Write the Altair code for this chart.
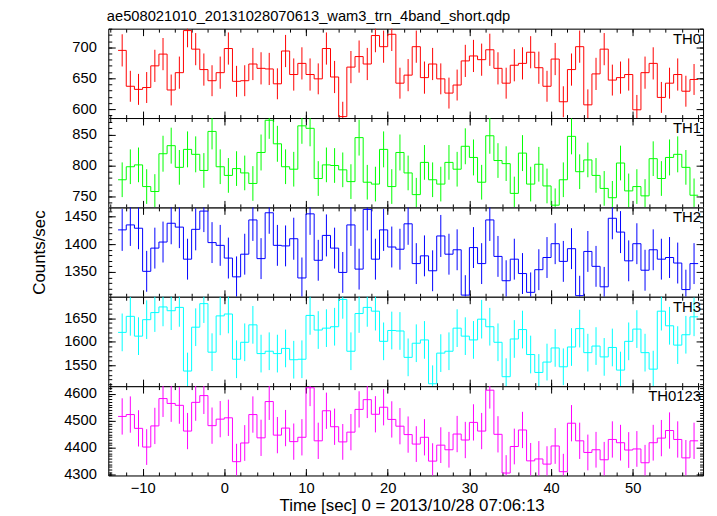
import altair as alt
import pandas as pd

FONT = "Liberation Sans"
FS = 14.8
TFS = 17

TITLE = "ae508021010_20131028070613_wam3_trn_4band_short.qdp"
X_TITLE = "Time [sec] 0 = 2013/10/28 07:06:13"
Y_TITLE = "Counts/sec"
BANDS = ["TH0", "TH1", "TH2", "TH3", "TH0123"]
COLORS = ["#ff0000", "#00ff00", "#0000ff", "#00ffff", "#ff00ff"]

T_START = -13
N_BINS = 71

TH0 = [695, 637, 632, 635, 670, 689, 631, 659, 727, 697, 664, 646, 659, 698, 645, 646, 673, 666,
       665, 641, 694, 656, 674, 656, 649, 698, 652, 588, 668, 685, 673, 719, 701, 721, 642, 655,
       701, 651, 673, 649, 626, 639, 678, 686, 680, 696, 666, 642, 671, 674, 692, 667, 637, 681,
       612, 664, 701, 607, 657, 697, 647, 651, 656, 599, 659, 674, 619, 642, 656, 629, 648]
TH0_ERR = [26, 25, 25, 25, 26, 26, 25, 26, 27, 26, 26, 25, 26, 26, 25, 25, 26, 26,
           26, 25, 26, 26, 26, 26, 25, 26, 26, 24, 26, 26, 26, 27, 26, 27, 25, 26,
           26, 26, 26, 25, 25, 25, 26, 26, 26, 26, 26, 25, 26, 26, 26, 26, 25, 26,
           25, 26, 26, 25, 26, 26, 25, 26, 26, 24, 26, 26, 25, 25, 26, 25, 25]

TH1 = [777, 798, 801, 766, 758, 819, 832, 797, 826, 818, 792, 855, 798, 784, 795, 788, 771, 821,
       873, 835, 798, 794, 864, 860, 779, 801, 800, 793, 774, 845, 773, 770, 826, 766, 821, 788,
       753, 805, 777, 770, 805, 794, 831, 813, 773, 848, 808, 803, 755, 820, 770, 802, 767, 736,
       777, 847, 790, 809, 784, 763, 748, 804, 759, 766, 751, 811, 779, 813, 818, 797, 752]
TH1_ERR = [28, 28, 28, 28, 28, 29, 29, 28, 29, 29, 28, 29, 28, 28, 28, 28, 28, 29,
           30, 29, 28, 28, 29, 29, 28, 28, 28, 28, 28, 29, 28, 28, 29, 28, 29, 28,
           27, 28, 28, 28, 28, 28, 29, 29, 28, 29, 28, 28, 27, 29, 28, 28, 28, 27,
           28, 29, 28, 28, 28, 28, 27, 28, 28, 28, 27, 28, 28, 29, 29, 28, 27]

TH2 = [1426, 1435, 1429, 1351, 1393, 1404, 1438, 1431, 1373, 1427, 1460, 1403, 1398, 1375, 1341,
       1382, 1444, 1374, 1457, 1398, 1397, 1410, 1339, 1455, 1371, 1416, 1393, 1349, 1435, 1355,
       1463, 1373, 1426, 1395, 1391, 1437, 1365, 1379, 1352, 1415, 1382, 1390, 1308, 1394, 1365,
       1444, 1378, 1334, 1373, 1347, 1313, 1354, 1376, 1401, 1369, 1392, 1307, 1387, 1360, 1323,
       1447, 1422, 1370, 1401, 1353, 1390, 1373, 1376, 1366, 1318, 1365]
TH2_ERR = [38, 38, 38, 37, 37, 37, 38, 38, 37, 38, 38, 37, 37, 37, 37,
           37, 38, 37, 38, 37, 37, 38, 37, 38, 37, 38, 37, 37, 38, 37,
           38, 37, 38, 37, 37, 38, 37, 37, 37, 38, 37, 37, 36, 37, 37,
           38, 37, 37, 37, 37, 36, 37, 37, 37, 37, 37, 36, 37, 37, 36,
           38, 38, 37, 37, 37, 37, 37, 37, 37, 36, 37]

TH3 = [1620, 1654, 1612, 1647, 1662, 1674, 1666, 1673, 1538, 1631, 1681, 1578, 1655, 1659, 1563,
       1599, 1636, 1575, 1580, 1575, 1586, 1562, 1563, 1656, 1625, 1629, 1632, 1690, 1580, 1660,
       1673, 1665, 1601, 1624, 1623, 1567, 1597, 1604, 1511, 1576, 1580, 1629, 1612, 1604, 1648,
       1632, 1599, 1526, 1606, 1626, 1573, 1535, 1557, 1587, 1547, 1589, 1628, 1577, 1591, 1568,
       1588, 1540, 1601, 1627, 1577, 1542, 1665, 1634, 1593, 1615, 1653]
TH3_ERR = [40, 41, 40, 41, 41, 41, 41, 41, 39, 40, 41, 40, 41, 41, 40,
           40, 40, 40, 40, 40, 40, 40, 40, 41, 40, 40, 40, 41, 40, 41,
           41, 41, 40, 40, 40, 40, 40, 40, 39, 40, 40, 40, 40, 40, 41,
           40, 40, 39, 40, 40, 40, 39, 39, 40, 39, 40, 40, 40, 40, 40,
           40, 39, 40, 40, 40, 39, 41, 40, 40, 40, 41]

TH0123 = [4516, 4523, 4472, 4403, 4481, 4582, 4564, 4557, 4462, 4568, 4593, 4482, 4506, 4511,
          4349, 4418, 4523, 4437, 4571, 4447, 4473, 4423, 4439, 4622, 4426, 4537, 4478, 4422,
          4458, 4542, 4578, 4524, 4550, 4505, 4480, 4449, 4414, 4439, 4351, 4410, 4393, 4451,
          4429, 4494, 4462, 4613, 4450, 4307, 4405, 4466, 4352, 4359, 4340, 4407, 4312, 4491,
          4426, 4383, 4393, 4356, 4431, 4419, 4392, 4396, 4345, 4419, 4436, 4464, 4431, 4363, 4426]
TH0123_ERR = [67, 67, 67, 66, 67, 68, 68, 68, 67, 68, 68, 67, 67, 67,
              66, 66, 67, 67, 68, 67, 67, 67, 67, 68, 67, 67, 67, 66,
              67, 67, 68, 67, 67, 67, 67, 67, 66, 67, 66, 66, 66, 67,
              67, 67, 67, 68, 67, 66, 66, 67, 66, 66, 66, 66, 66, 67,
              67, 66, 66, 66, 67, 66, 66, 66, 66, 66, 67, 67, 67, 66, 67]

SERIES = [TH0, TH1, TH2, TH3, TH0123]
ERRORS = [TH0_ERR, TH1_ERR, TH2_ERR, TH3_ERR, TH0123_ERR]

X_DOMAIN = [-14.2, 58.6]
X_MAJOR = [-10, 0, 10, 20, 30, 40, 50]
X_MINOR = list(range(-14, 59, 2))
Y_DOMAINS = [[585.7, 730.1], [732.4, 876.6], [1305, 1466.7], [1506, 1695.6], [4298, 4628]]
Y_MAJOR = [[600, 650, 700], [750, 800, 850], [1350, 1400, 1450], [1550, 1600, 1650],
           [4300, 4400, 4500, 4600]]
Y_MINOR_STEP = [10, 10, 10, 10, 10]

W = 599
H = 90
MAJ = 7
MIN = 3.5


def tick_axis(orient, values, size, **kw):
    base = dict(orient=orient, values=values, tickSize=size, offset=-size, domain=False,
                grid=False, ticks=True, tickColor="black", tickWidth=1, labels=False)
    base.update(kw)
    return alt.Axis(**base)


def frame_axis(orient):
    return alt.Axis(orient=orient, domain=True, domainColor="black", domainWidth=1,
                    ticks=False, labels=False, grid=False)


def panel(k):
    vals = SERIES[k]
    errs = ERRORS[k]
    edges = [T_START + i for i in range(N_BINS + 1)]
    centers = [T_START + i + 0.5 for i in range(N_BINS)]
    step_df = pd.DataFrame({"t": edges, "v": vals + [vals[-1]]})
    err_df = pd.DataFrame({"t": centers, "v": vals,
                           "lo": [v - e for v, e in zip(vals, errs)],
                           "hi": [v + e for v, e in zip(vals, errs)]})
    lo, hi = Y_DOMAINS[k]
    st = Y_MINOR_STEP[k]
    y_minor = [v for v in range(int(lo // st) * st, int(hi) + st, st) if lo <= v <= hi]

    xs = alt.Scale(domain=X_DOMAIN, nice=False, zero=False)
    ys = alt.Scale(domain=Y_DOMAINS[k], nice=False, zero=False)
    color = COLORS[k]
    bottom = k == len(SERIES) - 1

    x_kw = {}
    if bottom:
        x_kw = dict(labels=True, labelFont=FONT, labelFontSize=FS, labelColor="black",
                    labelPadding=5, labelFlush=False, labelOverlap=False,
                    title=X_TITLE, titleFont=FONT, titleFontSize=TFS, titleFontWeight="normal",
                    titleColor="black", titleX=305.5, titleY=37.5, titleAlign="center",
                    titleBaseline="middle")
    y_kw = dict(labels=True, labelFont=FONT, labelFontSize=FS, labelColor="black",
                labelPadding=12, labelFlush=False, labelOverlap=False, format="d")
    if k == 2:
        y_kw.update(title=Y_TITLE, titleFont=FONT, titleFontSize=TFS, titleFontWeight="normal",
                    titleColor="black", titleX=-76, titleY=45, titleAngle=270,
                    titleAlign="center", titleBaseline="middle")

    line = alt.Chart(step_df).mark_line(
        interpolate="step-after", color=color, strokeWidth=1, clip=True
    ).encode(
        x=alt.X("t:Q", scale=xs, title=None, axis=tick_axis("bottom", X_MAJOR, MAJ, **x_kw)),
        y=alt.Y("v:Q", scale=ys, title=None, axis=tick_axis("left", Y_MAJOR[k], MAJ, **y_kw)),
    )
    bars = alt.Chart(err_df).mark_rule(color=color, strokeWidth=1, clip=True).encode(
        x=alt.X("t:Q", scale=xs, title=None, axis=tick_axis("top", X_MAJOR, MAJ)),
        y=alt.Y("lo:Q", scale=ys, title=None, axis=tick_axis("right", Y_MAJOR[k], MAJ)),
        y2="hi:Q",
    )
    minor_a = alt.Chart(err_df).mark_point(opacity=0, clip=True).encode(
        x=alt.X("t:Q", scale=xs, title=None, axis=tick_axis("bottom", X_MINOR, MIN)),
        y=alt.Y("v:Q", scale=ys, title=None, axis=tick_axis("left", y_minor, MIN)),
    )
    minor_b = alt.Chart(err_df).mark_point(opacity=0, clip=True).encode(
        x=alt.X("t:Q", scale=xs, title=None, axis=tick_axis("top", X_MINOR, MIN)),
        y=alt.Y("v:Q", scale=ys, title=None, axis=tick_axis("right", y_minor, MIN)),
    )
    frame_a = alt.Chart(err_df).mark_point(opacity=0, clip=True).encode(
        x=alt.X("t:Q", scale=xs, title=None, axis=frame_axis("bottom")),
        y=alt.Y("v:Q", scale=ys, title=None, axis=frame_axis("left")),
    )
    frame_b = alt.Chart(err_df).mark_point(opacity=0, clip=True).encode(
        x=alt.X("t:Q", scale=xs, title=None, axis=frame_axis("top")),
        y=alt.Y("v:Q", scale=ys, title=None, axis=frame_axis("right")),
    )
    label = alt.Chart(pd.DataFrame({"name": [BANDS[k]]})).mark_text(
        align="right", baseline="middle", font=FONT, fontSize=15, color="black"
    ).encode(x=alt.value(W - 2), y=alt.value(10), text="name:N")

    return alt.layer(line, bars, minor_a, minor_b, frame_a, frame_b, label).resolve_axis(
        x="independent", y="independent"
    ).properties(width=W, height=H)


chart = alt.vconcat(*[panel(k) for k in range(5)], spacing=0, bounds="flush").properties(
    title=alt.TitleParams(TITLE, anchor="start", font=FONT, fontSize=FS, fontWeight="normal",
                          color="black", offset=4, dx=77),
    padding={"left": 22, "top": -1, "right": 5, "bottom": 0},
).configure_view(strokeWidth=0).configure(background="white")

chart.save("out.html", embed_options={"renderer": "svg", "actions": False})
